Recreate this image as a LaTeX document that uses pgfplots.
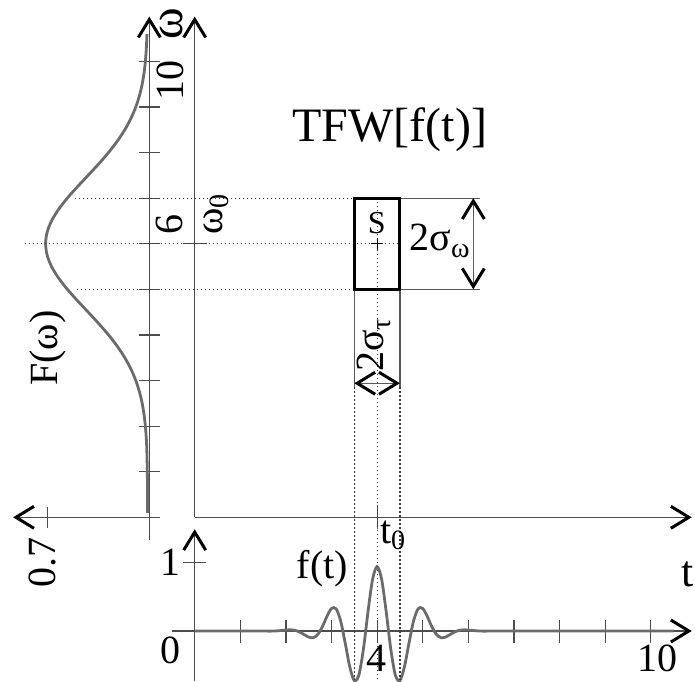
\documentclass[border=0pt]{standalone}
\usepackage{fontspec}
\setmainfont{Liberation Serif}
\usepackage{pgfplots}
\pgfplotsset{compat=1.18}
\usetikzlibrary{arrows.meta}

\tikzset{
  >={Straight Barb[length=9pt,width=11pt,line width=1.5pt,color=black]},
  lbl/.style={font=\fontsize{20}{24}\selectfont, inner sep=0pt},
  dots/.style={black!80, line width=0.6pt, dash pattern=on 0.6pt off 1.4pt},
  thin line/.style={black!65, line width=0.6pt},
}
\pgfplotsset{
  frame/.style={
    axis line style={black!70, line width=0.6pt},
    xticklabels={}, yticklabels={},
    tick align=center,
    tick style={black!70, line width=0.6pt},
    clip=false,
  },
  curve/.style={black!58, line width=1.4pt, smooth, no marks},
}

\begin{document}
\begin{tikzpicture}
\useasboundingbox (0,0) rectangle (347.5pt,-340.5pt);

% spectrum F(omega), turned on its side (x = -F)
\begin{axis}[
  frame,
  at={(6.55pt,-270.05pt)}, anchor=south west,
  x=72.85pt, y=22.8pt,
  xmin=-0.935, xmax=0.073, ymin=-0.5, ymax=10.98,
  axis lines=middle,
  x axis line style={<-}, y axis line style={->},
  xtick={-0.7}, ytick={0,1,...,10},
  major tick length=10.5pt,
]
\addplot[curve] coordinates {
  (-0.0121,0.1) (-0.0125,0.5) (-0.0137,1.0) (-0.0174,1.5) (-0.0212,1.75)
  (-0.0271,2.0) (-0.0360,2.25) (-0.0490,2.5) (-0.0675,2.75) (-0.0927,3.0)
  (-0.1260,3.25) (-0.1682,3.5) (-0.2197,3.75) (-0.2800,4.0) (-0.3477,4.25)
  (-0.4199,4.5) (-0.4931,4.75) (-0.5626,5.0) (-0.6236,5.25) (-0.6712,5.5)
  (-0.7016,5.75) (-0.7120,6.0) (-0.7016,6.25) (-0.6712,6.5) (-0.6236,6.75)
  (-0.5626,7.0) (-0.4931,7.25) (-0.4199,7.5) (-0.3477,7.75) (-0.2800,8.0)
  (-0.2197,8.25) (-0.1682,8.5) (-0.1260,8.75) (-0.0927,9.0) (-0.0675,9.25)
  (-0.0490,9.5) (-0.0360,9.75) (-0.0271,10.0) (-0.0212,10.25) (-0.0174,10.5)
  (-0.0163,10.6)
};
\end{axis}

% signal f(t)
\begin{axis}[
  frame,
  at={(85.95pt,-340.5pt)}, anchor=south west,
  x=22.8pt, y=34.25pt,
  xmin=-0.5, xmax=10.9, ymin=-0.73, ymax=1.486,
  axis lines=middle,
  axis line style={->},
  xtick={1,...,10}, ytick={1},
  major tick length=11.5pt,
]
\addplot[curve] coordinates {
  (0,0) (1.5,0) (1.6,-0.0018) (1.7,-0.0011) (1.8,0.0018) (1.9,0.0074)
  (2.0,0.0141) (2.1,0.0172) (2.2,0.0097) (2.3,-0.0140) (2.4,-0.0517)
  (2.5,-0.0885) (2.6,-0.0971) (2.7,-0.0493) (2.8,0.0640) (2.9,0.2135)
  (3.0,0.3289) (3.1,0.3249) (3.2,0.1483) (3.3,-0.1736) (3.4,-0.5211)
  (3.5,-0.7230) (3.6,-0.6429) (3.7,-0.2643) (3.8,0.2785) (3.9,0.7525)
  (4.0,0.9400)
  (4.1,0.7525) (4.2,0.2785) (4.3,-0.2643) (4.4,-0.6429) (4.5,-0.7230)
  (4.6,-0.5211) (4.7,-0.1736) (4.8,0.1483) (4.9,0.3249) (5.0,0.3289)
  (5.1,0.2135) (5.2,0.0640) (5.3,-0.0493) (5.4,-0.0971) (5.5,-0.0885)
  (5.6,-0.0517) (5.7,-0.0140) (5.8,0.0097) (5.9,0.0172) (6.0,0.0141)
  (6.1,0.0074) (6.2,0.0018) (6.3,-0.0011) (6.4,-0.0018) (6.5,0) (10.5,0)
};
\end{axis}

% time-frequency plane
\begin{axis}[
  frame,
  at={(97.35pt,-258.65pt)}, anchor=south west,
  x=22.8pt, y=22.8pt,
  xmin=0, xmax=10.9, ymin=0, ymax=10.98,
  axis lines=left,
  x axis line style={->}, y axis line style={->},
  xtick={4}, ytick={6},
  major tick length=12pt,
]
% guide lines
\addplot[dots] coordinates {(-2.62,7) (3.5,7)};
\addplot[dots] coordinates {(-3.72,6) (4.5,6)};
\addplot[dots] coordinates {(-2.58,5) (3.5,5)};
\addplot[dots] coordinates {(4,7) (4,-3.57)};
\addplot[dots] coordinates {(3.5,2.85) (3.5,-3.57)};
\addplot[dots] coordinates {(4.5,2.85) (4.5,-3.57)};
\addplot[thin line] coordinates {(3.5,5) (3.5,2.85)};
\addplot[thin line] coordinates {(4.5,5) (4.5,2.85)};
\addplot[thin line] coordinates {(4.5,7) (6.26,7)};
\addplot[thin line] coordinates {(4.5,5) (6.26,5)};
% window
\addplot[black, line width=1.5pt, line join=miter]
  coordinates {(4,5) (4.5,5) (4.5,7) (3.5,7) (3.5,5) (4,5)};
\addplot[only marks, mark=+, mark size=3pt, black, line width=0.5pt]
  coordinates {(4,6)};
% widths
\addplot[thin line, <->] coordinates {(6.11,5) (6.11,7)};
\addplot[thin line, <->] coordinates {(3.5,2.94) (4.5,2.94)};

\node[lbl, font=\fontsize{24}{28}\selectfont] at (4.28,8.49) {TFW[f(t)]};
\node[lbl, font=\fontsize{16}{19}\selectfont] at (3.99,6.45) {S};
\node[lbl] at (5.38,6.06) {2σ\textsubscript{ω}};
\node[lbl, rotate=90] at (3.93,3.78) {2σ\textsubscript{τ}};
\node[lbl] at (4.35,-0.40) {t\textsubscript{0}};
\node[lbl, rotate=90] at (0.47,6.65) {ω\textsubscript{0}};
\node[lbl, rotate=90, font=\fontsize{24}{28}\selectfont] at (-0.50,10.82) {ω};
\node[lbl, rotate=90] at (-0.56,6.43) {6};
\node[lbl, rotate=90] at (-0.54,9.57) {10};
\node[lbl, rotate=90] at (-3.23,3.71) {F(ω)};
\node[lbl, rotate=90] at (-3.33,-1.00) {0.7};
\node[lbl, font=\fontsize{22}{26}\selectfont] at (10.82,-1.24) {t};
\node[lbl] at (2.80,-1.12) {f(t)};
\node[lbl] at (-0.52,-0.98) {1};
\node[lbl] at (-0.52,-2.91) {0};
\node[lbl] at (3.99,-3.10) {4};
\node[lbl] at (10.14,-3.10) {10};
\end{axis}
\end{tikzpicture}
\end{document}
